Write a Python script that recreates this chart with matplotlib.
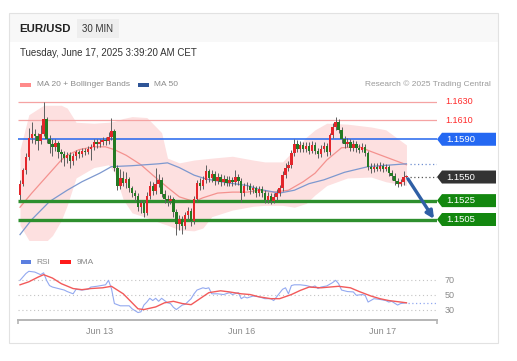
import matplotlib
matplotlib.use('Agg')
import matplotlib.pyplot as plt
from matplotlib.patches import Polygon, Rectangle
import numpy as np
import pandas as pd

plt.rcParams['font.family'] = ['Liberation Sans', 'DejaVu Sans']

# ── Data (EUR/USD, 30 min candles) ───────────────────────────────────────────
first_open = 1.1531
closes = [
    1.1543, 1.1557, 1.1571, 1.1591, 1.1596, 1.1593, 1.1588, 1.1596, 1.1611, 1.1590,
    1.1585, 1.1582, 1.1586, 1.1576, 1.1574, 1.1570, 1.1573, 1.1567, 1.1572, 1.1576,
    1.1574, 1.1578, 1.1577, 1.1580, 1.1582, 1.1587, 1.1585, 1.1587, 1.1589, 1.1588,
    1.1592, 1.1599, 1.1560, 1.1541, 1.1549, 1.1544, 1.1548, 1.1538, 1.1533, 1.1530,
    1.1518, 1.1522, 1.1512, 1.1530, 1.1540, 1.1535, 1.1543, 1.1547, 1.1532, 1.1527,
    1.1525, 1.1527, 1.1513, 1.1500, 1.1506, 1.1498, 1.1510, 1.1514, 1.1503, 1.1527,
    1.1544, 1.1540, 1.1547, 1.1556, 1.1549, 1.1553, 1.1546, 1.1550, 1.1545, 1.1548,
    1.1544, 1.1547, 1.1545, 1.1550, 1.1546, 1.1533, 1.1540, 1.1541, 1.1536, 1.1538,
    1.1533, 1.1537, 1.1533, 1.1526, 1.1530, 1.1525, 1.1529, 1.1533, 1.1538, 1.1552,
    1.1560, 1.1563, 1.1575, 1.1585, 1.1580, 1.1584, 1.1580, 1.1583, 1.1578, 1.1584,
    1.1578, 1.1574, 1.1580, 1.1583, 1.1576, 1.1594, 1.1603, 1.1608, 1.1600, 1.1590,
    1.1585, 1.1587, 1.1581, 1.1585, 1.1581, 1.1579, 1.1582, 1.1575, 1.1561, 1.1558,
    1.1561, 1.1559, 1.1562, 1.1559, 1.1561, 1.1554, 1.1551, 1.1546, 1.1543, 1.1545,
    1.1550, 1.1551]
highs = [
    1.1547, 1.1560, 1.1575, 1.1602, 1.1608, 1.1601, 1.1597, 1.1605, 1.1629, 1.1614,
    1.1594, 1.1590, 1.1590, 1.1588, 1.1580, 1.1578, 1.1577, 1.1576, 1.1575, 1.1579,
    1.1579, 1.1581, 1.1581, 1.1583, 1.1585, 1.1590, 1.1590, 1.1590, 1.1592, 1.1592,
    1.1598, 1.1613, 1.1601, 1.1563, 1.1558, 1.1556, 1.1555, 1.1550, 1.1541, 1.1536,
    1.1533, 1.1526, 1.1525, 1.1534, 1.1546, 1.1545, 1.1560, 1.1553, 1.1550, 1.1536,
    1.1531, 1.1531, 1.1529, 1.1516, 1.1510, 1.1509, 1.1513, 1.1518, 1.1517, 1.1530,
    1.1547, 1.1549, 1.1551, 1.1563, 1.1559, 1.1557, 1.1556, 1.1554, 1.1553, 1.1552,
    1.1551, 1.1551, 1.1550, 1.1557, 1.1553, 1.1549, 1.1544, 1.1545, 1.1544, 1.1542,
    1.1541, 1.1541, 1.1540, 1.1536, 1.1534, 1.1533, 1.1533, 1.1537, 1.1542, 1.1556,
    1.1565, 1.1567, 1.1579, 1.1590, 1.1589, 1.1588, 1.1587, 1.1587, 1.1587, 1.1588,
    1.1587, 1.1581, 1.1584, 1.1587, 1.1586, 1.1597, 1.1607, 1.1614, 1.1611, 1.1603,
    1.1593, 1.1591, 1.1590, 1.1589, 1.1588, 1.1585, 1.1586, 1.1585, 1.1578, 1.1565,
    1.1565, 1.1565, 1.1566, 1.1565, 1.1564, 1.1563, 1.1557, 1.1554, 1.1549, 1.1548,
    1.1556, 1.1552]
lows = [
    1.1526, 1.1540, 1.1553, 1.1568, 1.1586, 1.1585, 1.1579, 1.1585, 1.1593, 1.1586,
    1.1575, 1.1572, 1.1578, 1.1570, 1.1566, 1.1562, 1.1565, 1.1560, 1.1563, 1.1568,
    1.1570, 1.1571, 1.1573, 1.1574, 1.1568, 1.1579, 1.1581, 1.1582, 1.1584, 1.1584,
    1.1585, 1.1589, 1.1556, 1.1536, 1.1537, 1.1540, 1.1538, 1.1534, 1.1529, 1.1525,
    1.1514, 1.1512, 1.1508, 1.1510, 1.1527, 1.1531, 1.1532, 1.1539, 1.1529, 1.1522,
    1.1519, 1.1521, 1.1508, 1.1489, 1.1494, 1.1490, 1.1495, 1.1506, 1.1498, 1.1500,
    1.1524, 1.1536, 1.1537, 1.1544, 1.1545, 1.1545, 1.1542, 1.1543, 1.1541, 1.1542,
    1.1540, 1.1541, 1.1541, 1.1542, 1.1542, 1.1524, 1.1530, 1.1536, 1.1532, 1.1533,
    1.1529, 1.1530, 1.1529, 1.1522, 1.1523, 1.1521, 1.1523, 1.1526, 1.1530, 1.1535,
    1.1549, 1.1556, 1.1560, 1.1572, 1.1576, 1.1577, 1.1576, 1.1577, 1.1574, 1.1575,
    1.1574, 1.1570, 1.1571, 1.1577, 1.1572, 1.1573, 1.1591, 1.1600, 1.1597, 1.1586,
    1.1581, 1.1582, 1.1578, 1.1578, 1.1577, 1.1575, 1.1576, 1.1572, 1.1557, 1.1554,
    1.1555, 1.1556, 1.1556, 1.1555, 1.1556, 1.1551, 1.1547, 1.1542, 1.1539, 1.1540,
    1.1542, 1.1549]

# indicators (bar index, value)
bb_idx = [0, 3, 8, 11, 14, 16, 19, 25, 30, 32, 35, 38, 43, 48, 50, 54, 59, 62, 65,
          72, 79, 83, 89, 93, 97, 100, 104, 111, 119, 124, 131]
bb_upper = [1.1579, 1.1616, 1.1626, 1.1626, 1.1626, 1.1623, 1.1608, 1.1607, 1.1608,
            1.1609, 1.1612, 1.1614, 1.1613, 1.1597, 1.1570, 1.1565, 1.1568, 1.1569,
            1.1570, 1.1572, 1.1568, 1.1566, 1.1566, 1.1579, 1.1592, 1.1600, 1.1607,
            1.1606, 1.1603, 1.1600, 1.1584]
bb_lower = [1.1499, 1.1483, 1.1479, 1.1488, 1.1504, 1.1520, 1.1549, 1.1560, 1.1563,
            1.1555, 1.1526, 1.1512, 1.1507, 1.1501, 1.1499, 1.1494, 1.1493, 1.1496,
            1.1508, 1.1515, 1.1519, 1.1520, 1.1520, 1.1518, 1.1522, 1.1531, 1.1541,
            1.1549, 1.1550, 1.1545, 1.1541]
ma20_idx = [0, 4, 10, 14, 16, 20, 25, 29, 32, 36, 41, 45, 50, 54, 59, 62, 67, 72, 77,
            81, 86, 91, 96, 100, 104, 109, 115, 119, 125, 131]
ma20 = [1.1518, 1.1533, 1.1554, 1.1568, 1.1573, 1.1579, 1.1582, 1.1582, 1.1579, 1.1573,
        1.1563, 1.1552, 1.1539, 1.1529, 1.1524, 1.1528, 1.1533, 1.1534, 1.1534, 1.1536,
        1.1534, 1.1536, 1.1545, 1.1554, 1.1568, 1.1581, 1.1582, 1.1577, 1.1570, 1.1563]
ma50_idx = [0, 4, 10, 16, 21, 27, 31, 38, 47, 50, 54, 59, 63, 70, 77, 81, 88, 93, 98,
            103, 110, 118, 131]
ma50 = [1.1489, 1.1505, 1.1524, 1.1536, 1.1545, 1.1554, 1.1561, 1.1562, 1.1564, 1.1565,
        1.1560, 1.1552, 1.1548, 1.1544, 1.1541, 1.1537, 1.1533, 1.1536, 1.1543, 1.1547,
        1.1555, 1.1561, 1.1564]

rsi_idx = [0, 2, 3, 5, 7, 8, 9, 10, 11, 13, 15, 16, 18, 19, 21, 23, 24, 26, 29, 30,
           31, 32, 34, 37, 38, 40, 41, 42, 43, 44, 45, 46, 47, 48, 50, 51, 52, 53, 55,
           56, 58, 59, 60, 62, 63, 64, 65, 67, 69, 71, 72, 74, 75, 76, 77, 79, 81, 83,
           85, 86, 87, 89, 90, 91, 92, 93, 95, 97, 99, 100, 101, 102, 104, 106, 107,
           108, 109, 111, 113, 114, 116, 117, 118, 120, 122, 124, 125, 126, 128, 129, 131]
rsi = [70, 79, 82, 81, 77.5, 80, 70, 63, 61, 59, 57, 55, 52, 58, 57, 58, 61, 62, 64, 70,
       59, 39, 36, 36, 32, 27, 28, 37, 41, 46, 43, 46, 42, 46, 40, 39, 34, 31, 37,
       38, 45.5, 52, 57, 60, 59, 60, 52, 52, 51, 53.5, 51, 53.5, 45.5, 48, 46.5, 49, 48,
       45.5, 45.5, 43, 48, 58, 60, 52, 63, 64, 64, 63, 61, 62.5, 59, 61, 62.5, 67, 70,
       65.5, 57, 55, 54.5, 50, 51, 50, 41, 45.5, 44.5, 43, 41, 42, 37, 39, 40]
ma9_idx = [0, 3, 6, 8, 11, 14, 18, 21, 24, 28, 31, 35, 38, 40, 42, 46, 49, 52, 55, 58,
           61, 64, 68, 71, 75, 78, 81, 85, 88, 92, 95, 98, 102, 105, 108, 112, 115,
           119, 122, 125, 129, 131]
ma9 = [64, 68, 74, 77.5, 73, 65.5, 59, 57.5, 59, 60, 62, 52, 40, 32, 31, 34.5, 40, 42,
       39, 37.5, 45.5, 53.5, 56, 54.5, 52, 51, 48, 45.5, 45.5, 51, 56.5, 61, 60, 61,
       62, 60, 55, 49, 45.5, 43, 41, 40]

levels_res = [1.1630, 1.1610]
level_pivot = 1.1590
level_last = 1.1550
levels_sup = [1.1525, 1.1505]
day_labels = ['Jun 13', 'Jun 16', 'Jun 17']

# bar timestamps: Thursday/Friday session, weekend gap, then Monday/Tuesday
times = pd.DatetimeIndex(list(pd.date_range('2025-06-12 10:30', periods=75, freq='30min')) +
                         list(pd.date_range('2025-06-16 00:00', periods=57, freq='30min')))

# ── Layout helpers (pixel geometry of the 517x361 card) ──────────────────────
W, H = 517, 361
BAR_PX, X0_PX = 2.95, 20.0
PX_PER_PRICE = 9440.0


def fx(px):
    return px / W


def fy(py):
    return 1 - py / H


def bar_at(px):
    return (px - X0_PX) / BAR_PX


opens = [first_open] + closes[:-1]
n = len(closes)
xs = np.arange(n)
o, c, h, l = map(np.array, (opens, closes, highs, lows))

fig = plt.figure(figsize=(W / 100, H / 100), dpi=100)
fig.patch.set_facecolor('white')

# card + header strip
fig.patches.append(Rectangle((fx(9), fy(42)), (498 - 9) / W, 29 / H,
                             transform=fig.transFigure, fc='#f8f8f8', ec='none'))
fig.patches.append(Rectangle((fx(9), fy(343)), (498 - 9) / W, (343 - 13) / H,
                             transform=fig.transFigure, fill=False, ec='#e2e2e2', lw=0.8))
fig.patches.append(Rectangle((fx(77), fy(38)), 42 / W, 19 / H,
                             transform=fig.transFigure, fc='#eeeeee', ec='none'))

fig.text(fx(19), fy(29), 'EUR/USD', fontsize=8.2, fontweight='bold', color='#222222', va='center')
fig.text(fx(98), fy(29), '30 MIN', fontsize=7, color='#333333', va='center', ha='center')
fig.text(fx(20), fy(53), 'Tuesday, June 17, 2025 3:39:20 AM CET', fontsize=7,
         color='#333333', va='center')

# legend row
fig.patches.append(Rectangle((fx(20), fy(86.5)), 11 / W, 4 / H, transform=fig.transFigure,
                             fc='#ff8a8a', ec='none'))
fig.text(fx(37), fy(84.5), 'MA 20 + Bollinger Bands', fontsize=6, color='#8a8a8a', va='center')
fig.patches.append(Rectangle((fx(138), fy(86.5)), 11 / W, 4 / H, transform=fig.transFigure,
                             fc='#2f5597', ec='none'))
fig.text(fx(154), fy(84.5), 'MA 50', fontsize=6, color='#8a8a8a', va='center')
fig.text(fx(491), fy(84.5), 'Research \u00a9 2025 Trading Central', fontsize=6,
         color='#9a9a9a', va='center', ha='right')

# ── Price panel ──────────────────────────────────────────────────────────────
ax = fig.add_axes([fx(18), fy(240), (437 - 18) / W, 145 / H])
xl, xr = bar_at(18), bar_at(437)
ax.set_xlim(xl, xr)
ax.set_ylim(1.1630 - (240 - 101.5) / PX_PER_PRICE, 1.1630 + (101.5 - 95) / PX_PER_PRICE)
ax.set_axis_off()

ax.fill_between(bb_idx, bb_lower, bb_upper, color='#fde0e0', lw=0, zorder=1)
ax.plot(ma20_idx, ma20, color='#f4928f', lw=0.9, zorder=2)
ax.plot(ma50_idx, ma50, color='#7d98cf', lw=0.9, zorder=2)

for p in levels_res:
    ax.hlines(p, xl, xr, color='#f5a3a3', lw=0.9, zorder=2)
    ax.text(bar_at(445), p, f'{p:.4f}', color='#ff2a2a', fontsize=6.5, va='center',
            clip_on=False)
ax.hlines(level_pivot, xl, xr, color='#2366ee', lw=1.1, zorder=2)
for p in levels_sup:
    ax.hlines(p, xl, xr, color='#2e8f2e', lw=2.4, zorder=2)

# dotted extensions past the last bar
ax.hlines(ma50[-1], bar_at(410), xr, color='#6f8fd0', lw=0.9, linestyles=(0, (1, 2)), zorder=2)
ax.hlines(level_last, bar_at(410), xr, color='#555555', lw=0.9, linestyles=(0, (1, 2)), zorder=2)

# candles (red = up, green = down)
up = c >= o
body_col = np.where(up, '#e3262b', '#237a23')
ax.vlines(xs, l, h, color='#5e5e5e', lw=0.7, zorder=3)
ax.bar(xs, np.maximum(np.abs(c - o), 0.00008), bottom=np.minimum(o, c), width=0.82,
       color=body_col, lw=0, zorder=4)

# projection arrow
ax.annotate('', xy=(bar_at(434), levels_sup[1] + 0.00006), xytext=(bar_at(408), 1.1548),
            arrowprops=dict(arrowstyle='-|>', color='#2f5fa5', lw=2.4, mutation_scale=11,
                            shrinkA=0, shrinkB=0), zorder=6, annotation_clip=False)


def tag(price, color):
    x0, x1, tip = bar_at(437), bar_at(496), 5 / BAR_PX
    hh = 6.5 / PX_PER_PRICE
    pts = [(x0, price), (x0 + tip, price + hh), (x1, price + hh), (x1, price - hh),
           (x0 + tip, price - hh)]
    ax.add_patch(Polygon(pts, closed=True, fc=color, ec='none', clip_on=False, zorder=5))
    ax.text(bar_at(446), price, f'{price:.4f}', color='white', fontsize=6.8, va='center',
            clip_on=False, zorder=6)


tag(level_pivot, '#2468f2')
tag(level_last, '#333333')
for p in levels_sup:
    tag(p, '#13870f')

# ── RSI panel ────────────────────────────────────────────────────────────────
ax2 = fig.add_axes([fx(18), fy(320), (437 - 18) / W, 50 / H])
ax2.set_xlim(xl, xr)
rsi_bot, rsi_top = 50 - (320 - 295.3) / 0.75, 50 + (295.3 - 270) / 0.75
ax2.set_ylim(rsi_bot, rsi_top)
for s in ('top', 'right', 'left'):
    ax2.spines[s].set_visible(False)
ax2.spines['bottom'].set_color('#b5b5b5')
ax2.spines['bottom'].set_linewidth(1.4)
ax2.set_xticks([])
ax2.set_yticks([])

for lvl in (30, 50, 70):
    ax2.hlines(lvl, xl, xr, color='#c4c4c4', lw=0.8, linestyles=(0, (1, 2.5)))
    ax2.text(bar_at(445), lvl, str(lvl), fontsize=6.5, color='#8a8a8a', va='center',
             clip_on=False)

ax2.plot(rsi_idx, rsi, color='#93a9f0', lw=0.8, zorder=3)
ax2.plot(ma9_idx, ma9, color='#f25a5a', lw=1.0, zorder=4)
ax2.hlines(rsi[-1], bar_at(408), xr, color='#93a9f0', lw=0.9, linestyles=(0, (1, 2)))

# end ticks of the time axis
ax2.vlines([xl, xr], rsi_bot - 4 / 0.75, rsi_bot, color='#b5b5b5', lw=1.2, clip_on=False)

day_pos = [i for i in range(1, n) if times[i].date() != times[i - 1].date()]
for pos, lab in zip(day_pos, day_labels):
    ax2.text(pos, 50 - (331 - 295.3) / 0.75, lab, fontsize=6.5, color='#8a8a8a',
             ha='center', va='center', clip_on=False)

# RSI legend
fig.patches.append(Rectangle((fx(21), fy(263.5)), 10 / W, 3.5 / H, transform=fig.transFigure,
                             fc='#5b7fe0', ec='none'))
fig.text(fx(36), fy(262), 'RSI', fontsize=6, color='#8a8a8a', va='center')
fig.patches.append(Rectangle((fx(60), fy(263.5)), 11 / W, 3.5 / H, transform=fig.transFigure,
                             fc='#ff1a1a', ec='none'))
fig.text(fx(77), fy(262), '9MA', fontsize=6, color='#8a8a8a', va='center')

fig.savefig('out.png', dpi=100)
